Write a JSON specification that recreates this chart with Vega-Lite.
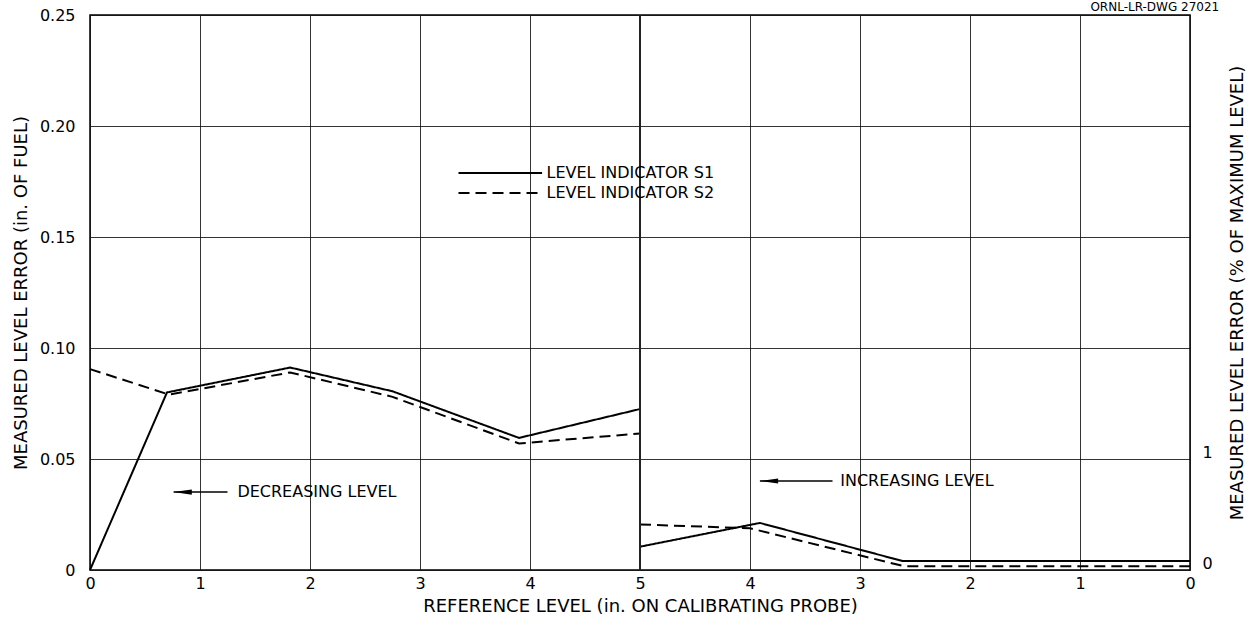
{
  "$schema": "https://vega.github.io/schema/vega-lite/v6.json",
  "width": 1100,
  "height": 555,
  "autosize": {"type": "none"},
  "padding": {"left": 90, "top": 15, "right": 64, "bottom": 56},
  "background": "white",
  "config": {
    "view": {"stroke": "#000", "strokeWidth": 1.5},
    "axis": {
      "labelFont": "DejaVu Sans", "labelFontSize": 16, "labelColor": "#000", "labelFlush": false,
      "titleFont": "DejaVu Sans", "titleFontSize": 18, "titleFontWeight": "normal", "titleColor": "#000",
      "domain": false, "ticks": false, "gridColor": "#111", "gridWidth": 1, "gridOpacity": 0.85
    },
    "text": {"font": "DejaVu Sans", "fontSize": 16, "color": "#000"}
  },
  "datasets": {
    "lines": [
      {"series": "S1", "seg": "S1a", "x": 0, "y": 0},
      {"series": "S1", "seg": "S1a", "x": 0.7, "y": 0.080},
      {"series": "S1", "seg": "S1a", "x": 1.82, "y": 0.0912},
      {"series": "S1", "seg": "S1a", "x": 2.75, "y": 0.0805},
      {"series": "S1", "seg": "S1a", "x": 3.9, "y": 0.0595},
      {"series": "S1", "seg": "S1a", "x": 5, "y": 0.0725},
      {"series": "S1", "seg": "S1b", "x": 5, "y": 0.0105},
      {"series": "S1", "seg": "S1b", "x": 6.09, "y": 0.0212},
      {"series": "S1", "seg": "S1b", "x": 7.39, "y": 0.004},
      {"series": "S1", "seg": "S1b", "x": 10, "y": 0.004},
      {"series": "S2", "seg": "S2a", "x": 0, "y": 0.0905},
      {"series": "S2", "seg": "S2a", "x": 0.72, "y": 0.079},
      {"series": "S2", "seg": "S2a", "x": 1.82, "y": 0.089},
      {"series": "S2", "seg": "S2a", "x": 2.75, "y": 0.078},
      {"series": "S2", "seg": "S2a", "x": 3.9, "y": 0.057},
      {"series": "S2", "seg": "S2a", "x": 5, "y": 0.0615},
      {"series": "S2", "seg": "S2b", "x": 5, "y": 0.0205},
      {"series": "S2", "seg": "S2b", "x": 6.0, "y": 0.0188},
      {"series": "S2", "seg": "S2b", "x": 7.4, "y": 0.0017},
      {"series": "S2", "seg": "S2b", "x": 10, "y": 0.0017}
    ],
    "legend": [
      {"series": "S1", "x": 3.35, "x2": 4.11, "y": 0.1788, "tx": 4.15, "label": "LEVEL INDICATOR S1"},
      {"series": "S2", "x": 3.35, "x2": 4.11, "y": 0.1698, "tx": 4.15, "label": "LEVEL INDICATOR S2"}
    ],
    "notes": [
      {"x": 0.76, "x2": 1.25, "y": 0.0351, "tx": 1.34, "label": "DECREASING LEVEL"},
      {"x": 6.09, "x2": 6.75, "y": 0.0401, "tx": 6.82, "label": "INCREASING LEVEL"}
    ],
    "pct": [{"p": 0}, {"p": 1}]
  },
  "layer": [
    {
      "layer": [
        {
          "data": {"name": "lines"},
          "mark": {"type": "line", "color": "#000", "strokeWidth": 2},
          "encoding": {
            "x": {
              "field": "x", "type": "quantitative",
              "scale": {"domain": [0, 10], "nice": false},
              "axis": {
                "values": [0, 1, 2, 3, 4, 5, 6, 7, 8, 9, 10],
                "labelExpr": "datum.value <= 5 ? datum.value : 10 - datum.value",
                "grid": true, "labelPadding": 5, "titlePadding": 6,
                "title": "REFERENCE LEVEL (in. ON CALIBRATING PROBE)"
              }
            },
            "y": {
              "field": "y", "type": "quantitative",
              "scale": {"domain": [0, 0.25], "nice": false},
              "axis": {
                "values": [0, 0.05, 0.1, 0.15, 0.2, 0.25],
                "labelExpr": "datum.value == 0 ? '0' : format(datum.value, '.2f')",
                "grid": true, "labelPadding": 15, "titlePadding": 9,
                "title": "MEASURED LEVEL ERROR (in. OF FUEL)"
              }
            },
            "strokeDash": {
              "field": "series", "type": "nominal",
              "scale": {"domain": ["S1", "S2"], "range": [[1, 0], [11, 6]]},
              "legend": null
            },
            "detail": {"field": "seg"}
          }
        },
        {
          "data": {"values": [{"x": 5}]},
          "mark": {"type": "rule", "color": "#222", "strokeWidth": 2},
          "encoding": {"x": {"field": "x", "type": "quantitative"}}
        },
        {
          "data": {"name": "legend"},
          "mark": {"type": "rule", "color": "#000", "strokeWidth": 2},
          "encoding": {
            "x": {"field": "x", "type": "quantitative"},
            "x2": {"field": "x2"},
            "y": {"field": "y", "type": "quantitative"},
            "strokeDash": {"field": "series", "type": "nominal", "legend": null}
          }
        },
        {
          "data": {"name": "legend"},
          "mark": {"type": "text", "align": "left", "baseline": "middle"},
          "encoding": {
            "x": {"field": "tx", "type": "quantitative"},
            "y": {"field": "y", "type": "quantitative"},
            "text": {"field": "label"}
          }
        },
        {
          "data": {"name": "notes"},
          "mark": {"type": "rule", "color": "#000", "strokeWidth": 1.5},
          "encoding": {
            "x": {"field": "x", "type": "quantitative"},
            "x2": {"field": "x2"},
            "y": {"field": "y", "type": "quantitative"}
          }
        },
        {
          "data": {"name": "notes"},
          "mark": {"type": "point", "shape": "M-1,0L1,-0.28L1,0.28Z", "filled": true, "color": "#000", "opacity": 1, "size": 340, "xOffset": 9},
          "encoding": {
            "x": {"field": "x", "type": "quantitative"},
            "y": {"field": "y", "type": "quantitative"}
          }
        },
        {
          "data": {"name": "notes"},
          "mark": {"type": "text", "align": "left", "baseline": "middle"},
          "encoding": {
            "x": {"field": "tx", "type": "quantitative"},
            "y": {"field": "y", "type": "quantitative"},
            "text": {"field": "label"}
          }
        },
        {
          "data": {"values": [{"x": 9.68, "y": 0.2534, "label": "ORNL-LR-DWG 27021"}]},
          "mark": {"type": "text", "align": "center", "baseline": "middle", "fontSize": 12},
          "encoding": {
            "x": {"field": "x", "type": "quantitative"},
            "y": {"field": "y", "type": "quantitative"},
            "text": {"field": "label"}
          }
        }
      ]
    },
    {
      "data": {"name": "pct"},
      "mark": {"type": "point", "opacity": 0},
      "encoding": {
        "y": {
          "field": "p", "type": "quantitative",
          "scale": {"domain": [-0.06, 4.94], "nice": false, "zero": false},
          "axis": {
            "orient": "right", "values": [0, 1], "grid": false,
            "labelPadding": 12, "titlePadding": 16,
            "titleAngle": 270, "titleBaseline": "top",
            "title": "MEASURED LEVEL ERROR (% OF MAXIMUM LEVEL)"
          }
        }
      }
    }
  ],
  "resolve": {"scale": {"y": "independent"}, "axis": {"y": "independent"}}
}
